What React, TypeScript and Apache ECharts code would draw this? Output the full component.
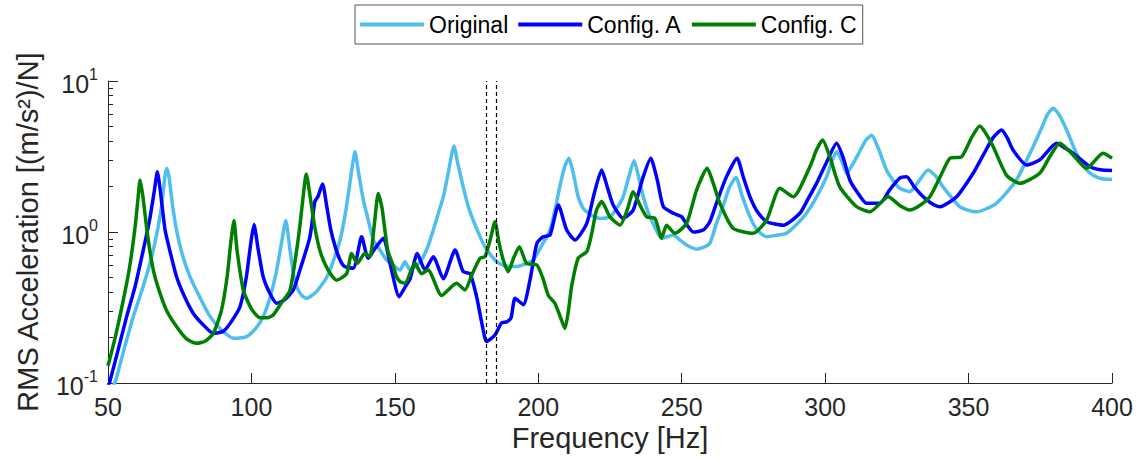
import React, { useEffect, useRef } from "react";
import * as echarts from "echarts";

// x ticks (Hz) and y decades
const xTickStart = 50;
const xTickEnd = 400;
const xTickStep = 50;
const yMin = 0.1;
const yMax = 10;

// dashed marker frequencies (Hz)
const markerFreqs = [181.8, 185.5];

// [frequency Hz, RMS acceleration (m/s^2)/N]
const originalData: [number, number][] = [
  [50, 0.085], [52.4, 0.1], [55.5, 0.165], [58.8, 0.275], [62.5, 0.45], [65.8, 0.76], [68.5, 1.4],
  [69.8, 2.3], [70.5, 2.64], [71.3, 2.3], [72.5, 1.5], [73.9, 1.03], [76, 0.7], [78.6, 0.505],
  [82, 0.37], [85.6, 0.275], [89.5, 0.225], [93.7, 0.198], [98.3, 0.203], [101.5, 0.23],
  [104.1, 0.275], [106.5, 0.37], [108.8, 0.56], [110.5, 0.85], [112, 1.19], [113.3, 0.8],
  [114.5, 0.55], [115.8, 0.434], [117.5, 0.38], [119.3, 0.364], [122.5, 0.4], [126.2, 0.5],
  [129, 0.68], [130.9, 0.885], [132.5, 1.25], [133.8, 1.8], [135, 2.6], [136.1, 3.4], [137.3, 2.5],
  [139, 1.63], [140.5, 1.25], [142.5, 0.885], [144.8, 0.76], [147.1, 0.653], [149.5, 0.6],
  [151.8, 0.56], [153.5, 0.636], [155.3, 0.56], [157.5, 0.6], [159.3, 0.653], [161.5, 0.8],
  [163.4, 1.03], [165.5, 1.4], [166.9, 1.71], [168.5, 2.4], [170.6, 3.71], [172, 2.8], [173.8, 2.0],
  [175.5, 1.5], [177.3, 1.2], [179.5, 0.95], [181.4, 0.8], [183.5, 0.7], [185.5, 0.636], [188, 0.6],
  [190.1, 0.59], [192.4, 0.59], [195, 0.61], [198.2, 0.653], [201, 0.8], [204.1, 1.03], [206, 1.45],
  [207.5, 2.0], [209.2, 2.7], [210.7, 3.08], [212.3, 2.4], [213.9, 1.71], [215.5, 1.45], [216.9, 1.36],
  [219, 1.28], [221.5, 1.23], [225, 1.26], [227.5, 1.45], [229.6, 1.71], [231.5, 2.3], [233.4, 2.97],
  [235, 2.3], [236.6, 1.71], [238.3, 1.35], [240, 1.14], [243, 0.91], [245, 0.93], [247.1, 0.955],
  [249.5, 0.88], [251.7, 0.82], [255.2, 0.77], [257.5, 0.79], [259.8, 0.84], [262.1, 1.14],
  [264.5, 1.5], [266.5, 1.95], [268.9, 2.3], [271, 1.75], [273.8, 1.26], [276.5, 1.02], [279.6, 0.93],
  [283, 0.95], [286.5, 0.98], [290, 1.12], [293.5, 1.33], [297, 1.7], [300.5, 2.32], [302.5, 3.0],
  [304, 3.4], [305.8, 2.95], [307.5, 2.45], [309.8, 2.85], [312, 3.4], [314, 4.0], [316.2, 4.38],
  [318.5, 3.6], [321.4, 2.57], [324, 2.15], [326, 1.95], [329.5, 1.85], [332.5, 2.15], [335.9, 2.57],
  [338.5, 2.35], [341.1, 1.99], [344, 1.7], [346.9, 1.47], [350, 1.39], [352.8, 1.36], [356, 1.42],
  [359.7, 1.55], [363, 1.8], [366.7, 2.21], [369.5, 2.8], [372.5, 3.67], [375.5, 4.9], [377.5, 6.0],
  [379.5, 6.59], [381.5, 6.0], [384.2, 4.74], [386.5, 3.7], [388.8, 3.0], [391, 2.6], [393.4, 2.38],
  [396.5, 2.25], [400, 2.23],
];

const configAData: [number, number][] = [
  [50, 0.095], [50.5, 0.1], [53.5, 0.165], [56.5, 0.275], [59.5, 0.44], [62.3, 0.76], [64.5, 1.2],
  [66.2, 1.9], [67.2, 2.51], [68.2, 1.9], [69.9, 1.03], [71.8, 0.72], [73.9, 0.505], [76.5, 0.38],
  [79.7, 0.29], [83, 0.245], [86.7, 0.213], [90.2, 0.22], [93, 0.255], [96, 0.32], [98.2, 0.5],
  [99.8, 0.85], [100.9, 1.12], [102.2, 0.8], [104.1, 0.505], [106.5, 0.39], [108.8, 0.337],
  [111.5, 0.355], [114.6, 0.413], [116.9, 0.56], [120.4, 0.93], [122.1, 1.59], [123.2, 1.72],
  [124.8, 2.08], [126.2, 1.5], [127.6, 1.05], [129.2, 0.8], [130.9, 0.653], [132.5, 0.59],
  [135.5, 0.575], [138.4, 0.93], [140.7, 0.67], [143.1, 0.78], [146, 0.91], [148.3, 0.62],
  [151.5, 0.373], [153.5, 0.43], [155.3, 0.49], [157.8, 0.72], [160.5, 0.56], [163.4, 0.686],
  [166.9, 0.49], [171, 0.76], [173.8, 0.546], [176.2, 0.53], [178.5, 0.373], [180.3, 0.25],
  [182, 0.188], [184.9, 0.208], [187.2, 0.25], [189, 0.254], [190.5, 0.27], [191.9, 0.364],
  [194.8, 0.33], [197.1, 0.48], [199.5, 0.84], [201.7, 0.93], [204.1, 0.955], [207, 1.51],
  [209.9, 1.03], [212.8, 0.885], [216.9, 1.14], [219.5, 1.8], [222.1, 2.57], [224, 2.0],
  [226.1, 1.51], [229.6, 1.23], [233.1, 1.4], [236.5, 2.3], [239.2, 3.08], [241.5, 2.2],
  [243.6, 1.47], [247.1, 1.33], [250, 1.26], [252, 1.1], [254, 1.0], [257.5, 1.03], [259.8, 1.17],
  [262.1, 1.55], [265.5, 2.3], [269.3, 3.08], [271.5, 2.3], [273.8, 1.71], [276.5, 1.35],
  [279.6, 1.17], [285.4, 1.11], [291.2, 1.33], [294, 1.65], [297, 2.1], [300.5, 2.9], [304, 3.87],
  [306.3, 3.1], [308.6, 2.21], [311.5, 1.8], [314.4, 1.55], [319.1, 1.55], [322.5, 1.9], [326, 2.27],
  [328.4, 2.32], [331, 2.0], [334.2, 1.71], [337, 1.55], [340, 1.47], [345.8, 1.71], [351.6, 2.45],
  [355, 3.2], [358.5, 4.2], [361.5, 4.74], [363.5, 4.2], [365.5, 3.49], [370.2, 2.78], [374.8, 3.0],
  [380.7, 3.87], [383.5, 3.6], [386.5, 3.32], [392.3, 2.71], [396, 2.58], [400, 2.55],
];

const configCData: [number, number][] = [
  [50, 0.13], [52.5, 0.2], [55, 0.33], [57.5, 0.58], [59.5, 1.1], [60.5, 1.7], [61.2, 2.21],
  [62.2, 1.7], [63.8, 0.95], [65.8, 0.56], [68, 0.4], [70.5, 0.3], [74, 0.235], [77.5, 0.195],
  [80.9, 0.183], [84, 0.19], [86.7, 0.213], [89.5, 0.3], [91.5, 0.5], [92.8, 0.85], [93.9, 1.19],
  [95, 0.75], [97.2, 0.41], [100, 0.31], [103, 0.27], [105.5, 0.27], [107.6, 0.282], [110.5, 0.34],
  [113.4, 0.41], [115.5, 0.7], [116.9, 1.1], [118, 1.7], [119.1, 2.42], [120.5, 1.7], [122, 1.1],
  [123.9, 0.75], [126.5, 0.57], [129.7, 0.48], [133.2, 0.53], [134.9, 0.72], [136.9, 0.62],
  [139.5, 0.72], [141.3, 0.686], [142.8, 1.1], [144.2, 1.8], [145.5, 1.45], [147.5, 0.76],
  [149.4, 0.6], [150.6, 0.505], [151.8, 0.47], [153.5, 0.457], [157, 0.62], [159.3, 0.53],
  [161.6, 0.56], [166.3, 0.38], [171.5, 0.457], [174.4, 0.413], [177, 0.53], [179.7, 0.67],
  [181.4, 0.686], [183.3, 0.9], [184.9, 1.17], [186.3, 0.85], [187.8, 0.653], [189.5, 0.546],
  [191.5, 0.68], [193.4, 0.8], [195.9, 0.62], [199.5, 0.605], [201.5, 0.5], [203.5, 0.38],
  [205.8, 0.337], [207.8, 0.27], [209.3, 0.23], [210.5, 0.3], [211.6, 0.434], [213.9, 0.67],
  [216.9, 0.74], [218.5, 0.95], [220.3, 1.4], [222.1, 1.59], [225, 1.26], [228.5, 1.11], [231, 1.4],
  [233.1, 1.85], [235.5, 1.5], [237.8, 1.26], [240.7, 1.23], [243, 0.91], [244.7, 1.11],
  [247.6, 0.98], [251.7, 1.14], [255.2, 1.9], [258.9, 2.64], [261, 2.1], [263.3, 1.55],
  [267.9, 1.06], [274.9, 0.98], [279.6, 1.2], [284.2, 1.95], [288.9, 1.71], [294.7, 2.71],
  [297, 3.5], [299.1, 4.07], [301.5, 3.2], [305.1, 1.99], [311, 1.47], [315.6, 1.36], [322, 1.71],
  [326, 1.5], [329.5, 1.4], [333, 1.5], [336.5, 1.71], [340, 2.3], [343.5, 3.08], [347.6, 3.15],
  [351, 4.2], [353.9, 5.03], [356, 4.5], [358.6, 3.67], [363.2, 2.38], [367.9, 2.1], [374.8, 2.45],
  [378.5, 3.2], [381.8, 3.87], [386.5, 3.23], [391.1, 2.64], [396.9, 3.32], [400, 3.08],
];

const seriesNames = ["Original", "Config. A", "Config. C"];
const seriesColors = ["#4DBEEE", "#0000FF", "#008000"];

export default function App() {
  const ref = useRef<HTMLDivElement>(null);

  useEffect(() => {
    if (!ref.current) return;
    const chart = echarts.init(ref.current, null, { renderer: "svg" });
    const font = "'Liberation Sans', Arial, Helvetica, sans-serif";
    const axisColor = "#262626";

    const minorTicks: number[] = [];
    for (let e = Math.round(Math.log10(yMin)); e < Math.round(Math.log10(yMax)); e++) {
      for (let k = 2; k <= 9; k++) minorTicks.push(Math.log10(k) + e);
    }

    const datasets = [originalData, configAData, configCData];

    chart.setOption({
      animation: false,
      backgroundColor: "#ffffff",
      grid: {
        left: 108,
        right: 30,
        top: 81,
        bottom: 79,
        containLabel: false,
        outerBoundsMode: "none",
      },
      legend: {
        top: 5,
        left: 355,
        orient: "horizontal",
        icon: "rect",
        itemWidth: 64,
        itemHeight: 4,
        itemGap: 10,
        padding: [8, 6, 8, 5],
        borderColor: "#555",
        borderWidth: 1,
        backgroundColor: "#ffffff",
        textStyle: { fontSize: 23, fontFamily: font, color: "#000" },
        data: seriesNames,
      },
      xAxis: {
        type: "value",
        min: xTickStart,
        max: xTickEnd,
        interval: xTickStep,
        name: "Frequency [Hz]",
        nameLocation: "middle",
        nameGap: 40,
        nameTextStyle: { fontSize: 29, fontFamily: font, color: axisColor },
        axisLine: { show: true, onZero: false, lineStyle: { color: axisColor, width: 1 } },
        axisTick: { show: true, inside: true, length: 10, lineStyle: { color: axisColor } },
        axisLabel: { fontSize: 25, fontFamily: font, color: axisColor, margin: 11 },
        splitLine: { show: false },
      },
      yAxis: [
        {
          type: "log",
          logBase: 10,
          min: yMin,
          max: yMax,
          splitNumber: 2,
          name: "RMS Acceleration [(m/s²)/N]",
          nameLocation: "middle",
          nameGap: 66,
          nameTextStyle: { fontSize: 29, fontFamily: font, color: axisColor },
          axisLine: { show: true, lineStyle: { color: axisColor, width: 1 } },
          axisTick: { show: true, inside: true, length: 10, lineStyle: { color: axisColor } },
          axisLabel: {
            margin: 10,
            formatter: (v: number) => `{b|10}{s|${Math.round(Math.log10(v))}}`,
            rich: {
              b: { fontSize: 25, fontFamily: font, color: axisColor, lineHeight: 30, verticalAlign: "bottom" },
              s: { fontSize: 16, fontFamily: font, color: axisColor, lineHeight: 16, verticalAlign: "top" },
            },
          },
          splitLine: { show: false },
        },
        {
          type: "value",
          min: Math.log10(yMin),
          max: Math.log10(yMax),
          position: "left",
          axisLine: { show: false, onZero: false },
          axisLabel: { show: false },
          splitLine: { show: false },
          axisTick: {
            show: true,
            inside: true,
            length: 5,
            customValues: minorTicks,
            lineStyle: { color: axisColor },
          },
        },
      ],
      series: datasets.map((d, i) => ({
        name: seriesNames[i],
        type: "line",
        data: d,
        yAxisIndex: 0,
        symbol: "none",
        showSymbol: false,
        smooth: 0.2,
        clip: true,
        lineStyle: { color: seriesColors[i], width: 3.5 },
        itemStyle: { color: seriesColors[i] },
        z: 2 + i,
        markLine:
          i === datasets.length - 1
            ? {
                silent: true,
                symbol: ["none", "none"],
                label: { show: false },
                lineStyle: { type: [4, 3], color: "#000", width: 1.2 },
                data: markerFreqs.map((f) => ({ xAxis: f })),
              }
            : undefined,
      })),
    });

    return () => chart.dispose();
  }, []);

  return (
    <div
      ref={ref}
      style={{ position: "fixed", left: 0, top: 0, width: 1142, height: 462, background: "#fff" }}
    />
  );
}
